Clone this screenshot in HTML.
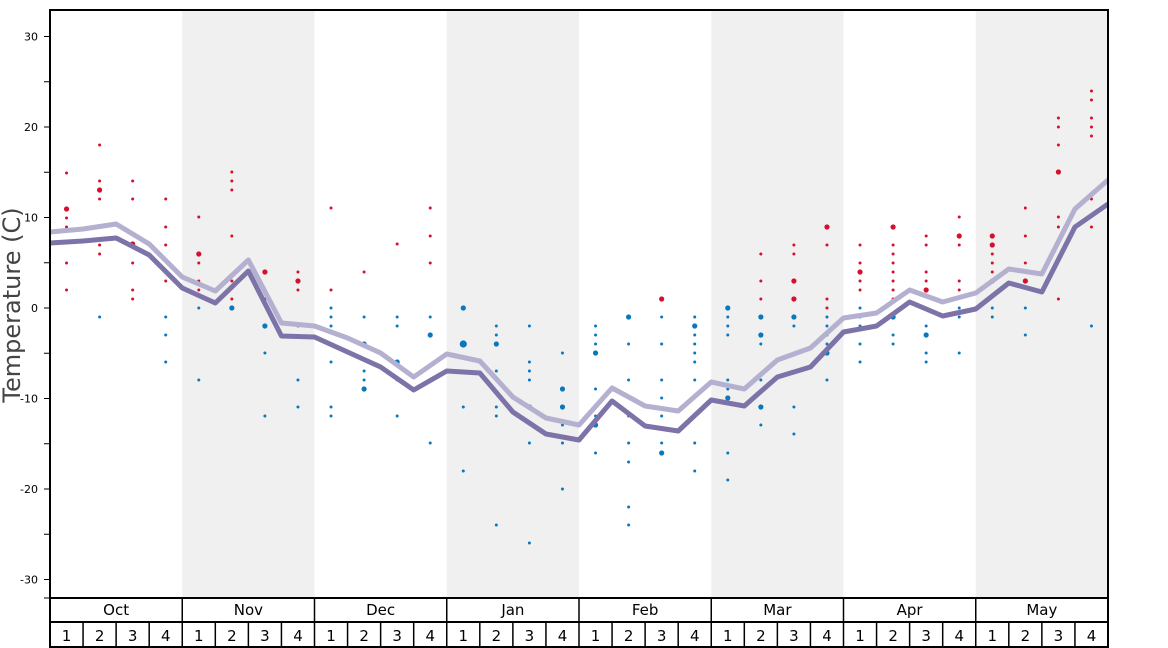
<!DOCTYPE html>
<html><head><meta charset="utf-8"><style>
html,body{margin:0;padding:0;background:#fff}
svg{display:block}
text{font-family:"DejaVu Sans","Liberation Sans",sans-serif}
</style></head><body>
<svg id="s" width="1168" height="648" xmlns="http://www.w3.org/2000/svg">
<g id="bands"></g>
<g id="dots"></g>
<polyline id="l1" fill="none" stroke="#b4b0d0" stroke-width="5" stroke-linejoin="round"/>
<polyline id="l2" fill="none" stroke="#7e73a8" stroke-width="5" stroke-linejoin="round"/>
<g id="axis" stroke="#000"></g>
<text x="20" y="305" font-size="24" fill="#444" text-anchor="middle" transform="rotate(-90 20 305)">Temperature (C)</text>
</svg>
<script>
const NS="http://www.w3.org/2000/svg";
function el(p,t,a,txt){const e=document.createElementNS(NS,t);for(const k in a)e.setAttribute(k,a[k]);if(txt!==undefined)e.textContent=txt;document.getElementById(p).appendChild(e);return e;}
const L=50,R=1108,T=10,B=598,mw=(R-L)/8,ww=mw/4;
for(let m=1;m<8;m+=2)el('bands','rect',{x:L+m*mw,y:T,width:mw,height:B-T,fill:'#f0f0f0'});
// lines
const xs=[];for(let i=0;i<=32;i++)xs.push(L+i*ww);
const d=[243,241,238,255,288,303,271,336,337,352,367,390,371,373,412,434,440,401,426,431,400,406,377,367,332,326,302,316,309,283,292,227,204];
const l=[232,229,224,244,277,291,260,323,326,338,353,377,354,361,397,418,425,388,406,411,382,389,360,348,318,313,290,302,293,269,274,209,180];
document.getElementById('l2').setAttribute('points',xs.map((x,i)=>x+','+d[i]).join(' '));
document.getElementById('l1').setAttribute('points',xs.map((x,i)=>x+','+l[i]).join(' '));
// dots: [red list], [blue list], big values marked with negative? use 'b' suffix strings
const D=[
["173 209b 218 227 263 290",""],
["145 181 190b 199 245 254","317"],
["181 199 235 244b 263 290 299",""],
["199 227 245 272 281","317 335 362"],
["217 254b 263 281 290","308 380"],
["172 181 190 236 281 299","308b"],
["272b 299","326b 353 416"],
["272 281b 290","326 380 407"],
["208 290","308 317 326 362 407 416"],
["272","317 344b 371 380 389b"],
["244","317 326 362b 380 416"],
["208 236 263","317 335b 380 443"],
["","308b 344B 407 471"],
["","326 335 344b 371 407 416 525"],
["","326 362 371 380 407b 443 543"],
["","353 389b 407b 425 443 489"],
["","326 335 344 353b 389 416 425b 453"],
["","317b 344 380 416 443 462 507 525"],
["299b","317 344 380 398 416 443 453b"],
["","317 326b 335 344 353 362 380 416 443 471"],
["","308b 317 326 335 380 389 398b 453 480"],
["254 281 299","317b 335b 344 380 407b 425"],
["245 254 281b 299b","317b 326 407 434"],
["227b 245 299 308","317 326 335 344 353b 380"],
["245 263 272b 281 290","308 317 326 344 362"],
["227b 245 254 263 272 281 290 299","317b 335 344"],
["236 245 272 281 290b","326 335b 353 362"],
["217 236b 245 281 290","308 317 353"],
["236b 245b 254 263 272 281b","308 317"],
["208 236 263 281b","308 335"],
["118 127 145 172b 217 227 299",""],
["91 100 118 127 136 199 227","326"]];
D.forEach((w,i)=>{const x=L+ww*(i+0.5);
 [[w[0],'#d4102e'],[w[1],'#0a78bd']].forEach(([s,c])=>{if(!s)return;s.split(' ').forEach(v=>{let r=1.5;if(v.endsWith('b'))r=2.6;if(v.endsWith('B'))r=3.6;el('dots','circle',{cx:x,cy:parseFloat(v),r:r,fill:c});});});
});
// axis
el('axis','rect',{x:L,y:T,width:R-L,height:B-T,fill:'none','stroke-width':2});
for(let v=-30;v<=30;v+=5){const y=308-9.05*v;el('axis','line',{x1:44,x2:L,y1:y,y2:y,'stroke-width':1});
 if(v%10===0)el('axis','text',{x:38,y:y+4,'font-size':11,'text-anchor':'end',stroke:'none',fill:'#000'},String(v));}
el('axis','line',{x1:44,x2:L,y1:598,y2:598,'stroke-width':1});
// bottom table
el('axis','rect',{x:L,y:598,width:R-L,height:49,fill:'none','stroke-width':2});
el('axis','line',{x1:L,x2:R,y1:622,y2:622,'stroke-width':2});
const M=['Oct','Nov','Dec','Jan','Feb','Mar','Apr','May'];
M.forEach((m,i)=>{const x0=L+i*mw;
 if(i>0)el('axis','line',{x1:x0,x2:x0,y1:598,y2:647,'stroke-width':1.5});
 el('axis','text',{x:x0+mw/2,y:615,'font-size':15,'text-anchor':'middle',stroke:'none',fill:'#000'},m);
 for(let k=0;k<4;k++){const xw=x0+k*ww;if(k>0)el('axis','line',{x1:xw,x2:xw,y1:622,y2:647,'stroke-width':1.5});
 el('axis','text',{x:xw+ww/2,y:641,'font-size':15,'text-anchor':'middle',stroke:'none',fill:'#000'},String(k+1));}
});
</script>
</body></html>
